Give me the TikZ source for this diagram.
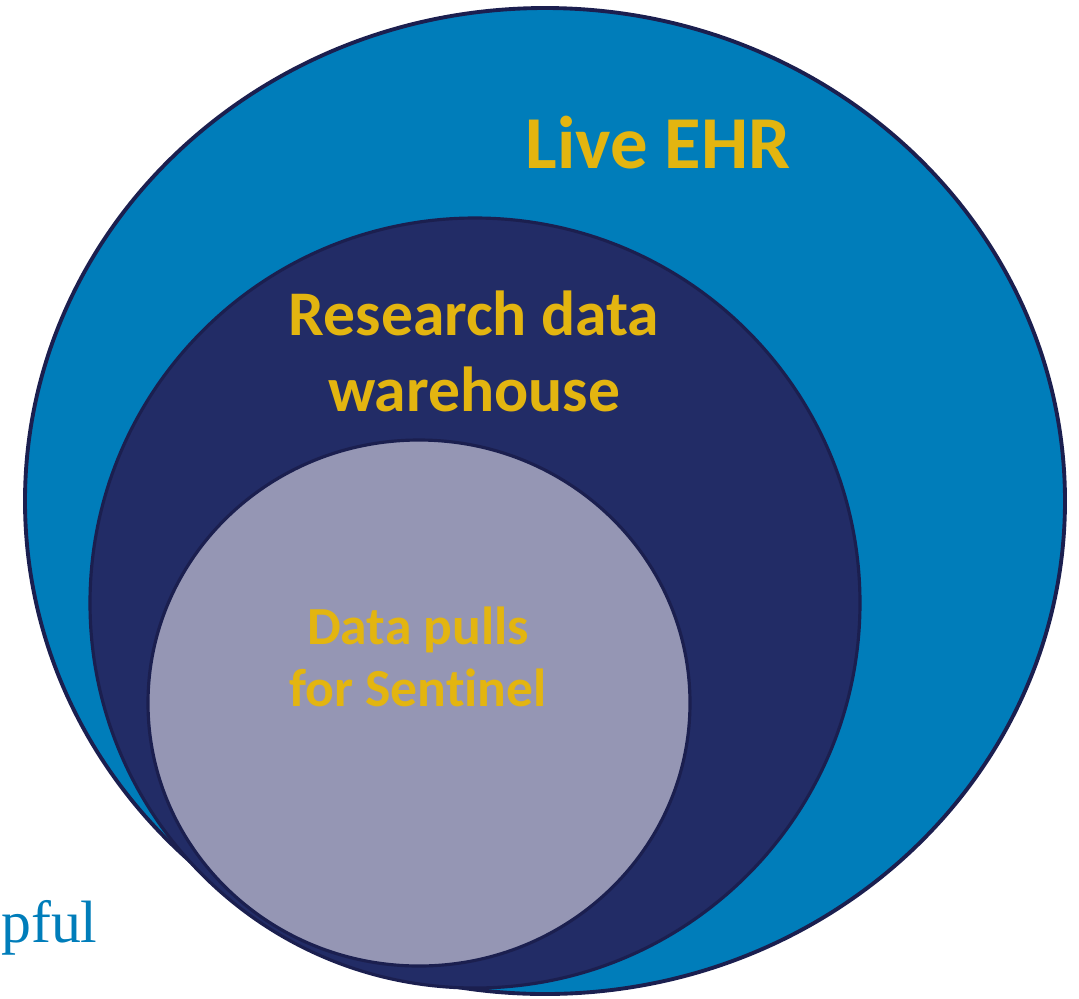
\documentclass[tikz,border=0pt]{standalone}
\usepackage{fontspec}
\setmainfont{Carlito}[Ligatures=NoCommon]
\newfontfamily\captionfont{Liberation Serif}
\usetikzlibrary{shapes.geometric}

\definecolor{ehrblue}{HTML}{007DBA}
\definecolor{rdwnavy}{HTML}{222C66}
\definecolor{pulllav}{HTML}{9596B4}
\definecolor{rimnavy}{HTML}{1B1F4F}
\definecolor{labgold}{HTML}{E3B510}

\tikzset{
  zone/.style={ellipse, draw=rimnavy, line width=2.2pt, inner sep=0pt},
  zonelabel/.style={text=labgold, font=\bfseries, align=center},
}

\begin{document}
\begin{tikzpicture}
  \useasboundingbox (0,0) rectangle (21.58,-19.96);
  % nested data sets
  \node[zone, fill=ehrblue, minimum width=20.8cm, minimum height=19.72cm] (ehr) at (10.9,-10.02) {};
  \node[zone, fill=rdwnavy, line width=1.8pt, minimum width=15.4cm, minimum height=15.4cm] (rdw) at (9.5,-12.06) {};
  \node[zone, fill=pulllav, line width=1.8pt, minimum width=10.84cm, minimum height=10.52cm] (pull) at (8.38,-14.06) {};
  % labels
  \node[zonelabel, font=\fontsize{42.5}{50}\selectfont\bfseries] (ehrlab) at (13.16,-2.86) {Live EHR};
  \node[zonelabel, font=\fontsize{36.2}{43}\selectfont\bfseries] (rdwlab) at (9.48,-7.03) {Research data\\warehouse};
  \node[zonelabel, font=\fontsize{30.5}{35}\selectfont\bfseries] (pulllab) at (8.36,-13.14) {Data pulls\\for Sentinel};
  % clipped caption text at the left edge
  \node[anchor=base west, inner sep=0pt, text=ehrblue, font=\captionfont\fontsize{34}{40}\selectfont] (cap) at (0.02,-18.84) {pful};
\end{tikzpicture}
\end{document}
